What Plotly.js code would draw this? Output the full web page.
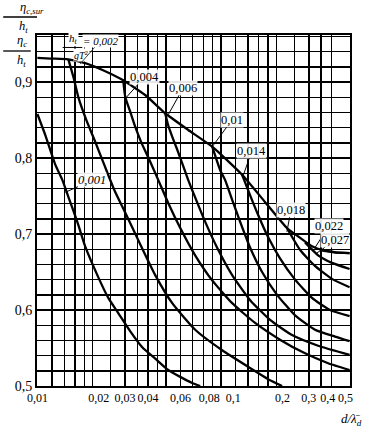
<!DOCTYPE html>
<html><head><meta charset="utf-8">
<script src="https://cdn.plot.ly/plotly-3.0.1.min.js"></script>
<style>html,body{margin:0;padding:0;background:#fff}#chart{width:366px;height:429px}</style>
</head><body><div id="chart"></div>
<script>
// ---- data (x = d/λd, y = η/h_t) ----
const envX = [0.01,0.0118,0.0147,0.0182,0.0226,0.029,0.0386,0.0496,0.0662,0.0894,0.130,0.1735,0.228,0.269,0.312,0.354,0.4165,0.5];
const envY = [0.932,0.931,0.930,0.925,0.916,0.903,0.883,0.859,0.837,0.815,0.778,0.742,0.708,0.695,0.684,0.679,0.676,0.675];

const c001X = [0.0100,0.01105,0.01253,0.01368,0.01474,0.01649,0.01824,0.02146,0.02431,0.02755,0.03202,0.03721,0.04378,0.05152,0.05987,0.06956,0.07689];
const c001Y = [0.858,0.830,0.791,0.771,0.749,0.716,0.683,0.643,0.616,0.596,0.572,0.551,0.536,0.521,0.512,0.504,0.5];

const c002X = [0.01474,0.01569,0.01671,0.01847,0.02067,0.02312,0.02621,0.03008,0.03539,0.04378,0.05418,0.07223,0.1013,0.1474,0.1801,0.2145];
const c002Y = [0.930,0.907,0.880,0.850,0.821,0.791,0.758,0.728,0.692,0.646,0.609,0.574,0.547,0.522,0.509,0.5];

const c004X = [0.0293,0.0301,0.0320,0.0341,0.0367,0.0401,0.0455,0.0515,0.0599,0.0722,0.0894,0.1148,0.153,0.209,0.286,0.382,0.5];
const c004Y = [0.903,0.880,0.861,0.841,0.821,0.801,0.771,0.741,0.708,0.672,0.639,0.609,0.583,0.561,0.543,0.530,0.521];

const c006X = [0.0496,0.0515,0.0542,0.0577,0.0614,0.0662,0.0731,0.0819,0.0951,0.1148,0.1438,0.1846,0.243,0.337,0.5];
const c006Y = [0.859,0.843,0.828,0.811,0.793,0.771,0.745,0.716,0.682,0.646,0.613,0.587,0.567,0.553,0.541];

const c010X = [0.0894,0.0988,0.1051,0.1148,0.1269,0.1438,0.167,0.2015,0.2525,0.324,0.4165,0.5];
const c010Y = [0.815,0.784,0.771,0.745,0.716,0.682,0.650,0.620,0.593,0.574,0.565,0.559];

const c014X = [0.130,0.1438,0.159,0.180,0.209,0.2525,0.312,0.391,0.5];
const c014Y = [0.778,0.751,0.725,0.696,0.668,0.640,0.616,0.600,0.592];

const c018X = [0.228,0.269,0.324,0.401,0.5];
const c018Y = [0.708,0.679,0.658,0.641,0.630];

const c022X = [0.286,0.337,0.401,0.5];
const c022Y = [0.689,0.672,0.662,0.654];

const c027X = [0.345,0.4165,0.5];
const c027Y = [0.679,0.676,0.675];

// curve labels (h_t / gT^2) and the points their leaders touch
const labelTexts = ['0,001','0,004','0,006','0,01','0,014','0,018','0,022','0,027'];
const labelPtX   = [0.0142,0.0305,0.0515,0.0894,0.131,0.228,0.324,0.332];
const labelPtY   = [0.755,0.880,0.857,0.815,0.775,0.703,0.682,0.675];

// axes ticks / grid
const xGridVals = [0.01,0.012,0.014,0.016,0.018,0.02,0.025,0.03,0.035,0.04,0.045,0.05,0.06,0.07,0.08,0.09,0.1,0.12,0.14,0.16,0.18,0.2,0.25,0.3,0.35,0.4,0.5];
// x tick labels, split in groups that the original prints slightly off their grid line
const xLabA = [0.01,0.03,0.04,0.06,0.3];   const xTxtA = ['0,01','0,03','0,04','0,06','0,3'];
const xLabB = [0.02,0.08,0.2];             const xTxtB = ['0,02','0,08','0,2'];
const xLabC = [0.1];                       const xTxtC = ['0,1'];
const xLabD = [0.4,0.5];                   const xTxtD = ['0,4','0,5'];
const yGridVals = [0.5,0.52,0.54,0.56,0.58,0.6,0.62,0.64,0.66,0.68,0.7,0.72,0.74,0.76,0.78,0.8,0.82,0.84,0.86,0.88,0.9,0.92,0.94,0.96];
const yLabeled  = [0.5,0.6,0.7,0.8,0.9];
const yLabelTxt = ['0,5','0,6','0,7','0,8','0,9'];

// ---- build ----
const FONT = 'Liberation Serif, Times New Roman, serif';
const series = [[envX,envY],[c001X,c001Y],[c002X,c002Y],[c004X,c004Y],[c006X,c006Y],[c010X,c010Y],[c014X,c014Y],[c018X,c018Y],[c022X,c022Y],[c027X,c027Y]];
const traces = series.map(s => ({
  x: s[0], y: s[1], type: 'scatter', mode: 'lines',
  line: {color: '#000', width: 2.3, shape: 'spline', smoothing: 0.5},
  hoverinfo: 'skip', showlegend: false
}));
['x2','x3','x4','x5'].forEach(ax => traces.push({x: [], y: [], xaxis: ax, yaxis: 'y', type: 'scatter', mode: 'lines', showlegend: false, hoverinfo: 'skip'}));

function near(a, b){ return Math.abs(a-b) < 1e-9; }
const yTickText = yGridVals.map(v => { const i = yLabeled.findIndex(u => near(u,v)); return i >= 0 ? yLabelTxt[i] : ''; });

const labelOffsets = [[27,-12],[18,-20],[15,-27],[20,-27],[9,-26],[4,-22],[14,-22],[18,-13]];
const annotations = labelTexts.map((t,i) => ({
  x: Math.log10(labelPtX[i]), y: labelPtY[i], xref: 'x', yref: 'y',
  text: i === 0 ? '<i>' + t + '</i>' : t, showarrow: true, arrowhead: 0, arrowwidth: 1, arrowcolor: '#000',
  ax: labelOffsets[i][0], ay: labelOffsets[i][1], standoff: 0,
  font: {family: FONT, size: 12.5, color: '#000'}, bgcolor: 'rgba(255,255,255,0.9)', borderpad: 0
}));
// h_t / gT^2 = 0,002
annotations.push({xref:'paper', yref:'paper', x:0.098, y:0.9665, yanchor:'bottom', text:'<i>h<sub>t</sub></i>', showarrow:false, font:{family:FONT,size:11,color:'#000'}, bgcolor:'#fff', borderpad:0});
annotations.push({xref:'paper', yref:'paper', x:0.116, y:0.9625, yanchor:'top', text:'<i>gT</i><sup>2</sup>', showarrow:false, font:{family:FONT,size:10,color:'#000'}, bgcolor:'#fff', borderpad:0});
annotations.push({x: Math.log10(0.0171), y: 0.924, xref:'x', yref:'y', text:'<i>= 0,002</i>', showarrow:true, arrowhead:0, arrowwidth:1, ax:20, ay:-23, standoff:0, font:{family:FONT,size:11,color:'#000'}, bgcolor:'#fff', borderpad:0});
// y-axis title (stacked fractions)
const TF = {family:FONT,size:12.5,color:'#000'};
annotations.push({xref:'paper', yref:'paper', x:-0.057, y:1.0527, yanchor:'bottom', text:'<i>η<sub>c,sur</sub></i>', showarrow:false, font:TF, borderpad:0});
annotations.push({xref:'paper', yref:'paper', x:-0.062, y:1.0484, yanchor:'top', text:'<i>h<sub>t</sub></i>', showarrow:false, font:TF, borderpad:0});
annotations.push({xref:'paper', yref:'paper', x:-0.068, y:0.9573, yanchor:'bottom', text:'<i>η<sub>c</sub></i>', showarrow:false, font:TF, borderpad:0});
annotations.push({xref:'paper', yref:'paper', x:-0.068, y:0.9516, yanchor:'top', text:'<i>h<sub>t</sub></i>', showarrow:false, font:TF, borderpad:0});
// x-axis title
annotations.push({xref:'paper', yref:'paper', x:1.04, y:-0.068, xanchor:'right', yanchor:'top', text:'<i>d/λ̄<sub>d</sub></i>', showarrow:false, font:{family:FONT,size:13,color:'#000'}, borderpad:0});

const shapes = [
  {type:'line', xref:'paper', yref:'paper', x0:-0.108, x1:0.0, y0:1.0513, y1:1.0513, line:{color:'#000', width:1.3}},
  {type:'line', xref:'paper', yref:'paper', x0:-0.108, x1:-0.02, y0:0.9544, y1:0.9544, line:{color:'#000', width:1.3}},
  {type:'line', xref:'paper', yref:'paper', x0:0.082, x1:0.145, y0:0.9645, y1:0.9645, line:{color:'#000', width:1}}
];

const XR = [Math.log10(0.00995), Math.log10(0.5025)];
function labelAxis(vals, txt, shift){
  return {type:'log', range: XR, overlaying:'x', anchor:'y', side:'bottom',
    tickmode:'array', tickvals: vals, ticktext: txt, tickangle: 0, ticklabelshift: shift, ticklabelstandoff: 3,
    showgrid:false, showline:false, zeroline:false, ticks:'',
    tickfont:{family: FONT, size: 12, color:'#000'}};
}

const layout = {
  width: 366, height: 429,
  margin: {l: 37, r: 16, t: 35, b: 43},
  paper_bgcolor: '#fff', plot_bgcolor: '#fff',
  font: {family: FONT, color: '#000'},
  showlegend: false,
  xaxis: {
    type: 'log', range: XR,
    tickmode: 'array', tickvals: xGridVals, showticklabels: false,
    showgrid: true, gridcolor: '#000', gridwidth: 1.4,
    showline: true, mirror: true, linecolor: '#000', linewidth: 2,
    ticks: '', zeroline: false
  },
  xaxis2: labelAxis(xLabA, xTxtA, 0),
  xaxis3: labelAxis(xLabB, xTxtB, 6),
  xaxis4: labelAxis(xLabC, xTxtC, 12),
  xaxis5: labelAxis(xLabD, xTxtD, -4),
  yaxis: {
    range: [0.5, 0.962],
    tickmode: 'array', tickvals: yGridVals, ticktext: yTickText,
    showgrid: true, gridcolor: '#000', gridwidth: 1.4,
    showline: true, mirror: true, linecolor: '#000', linewidth: 2,
    ticks: '', zeroline: false, tickfont: {family: FONT, size: 14, color: '#000'}
  },
  annotations: annotations,
  shapes: shapes
};

Plotly.newPlot('chart', traces, layout, {staticPlot: true, displayModeBar: false});
</script>
</body></html>
